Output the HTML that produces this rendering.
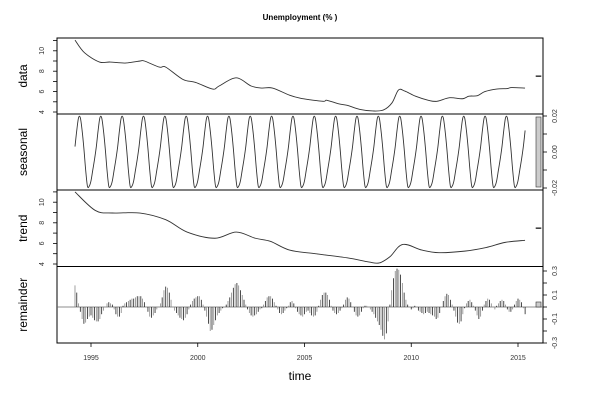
<!DOCTYPE html>
<html><head><meta charset="utf-8"><style>
html,body{margin:0;padding:0;background:#fff}
svg{display:block;font-family:"Liberation Sans",sans-serif}
</style></head><body>
<svg id="chart" width="600" height="400" viewBox="0 0 600 400"></svg>
<script>
// ---------- data ----------
const dataYears = [1994.25,1994.7,1995.4,1995.9,1996.6,1997.3,1997.5,1998.2,1998.5,1999.3,1999.9,2000.7,2001.0,2001.8,2002.5,2003.0,2003.5,2004.3,2004.8,2005.25,2005.9,2006.05,2006.6,2007.0,2007.6,2008.2,2008.7,2009.1,2009.4,2009.7,2010.2,2010.8,2011.2,2011.8,2012.4,2012.7,2013.1,2013.45,2014.0,2014.5,2014.7,2015.33];
const dataValues = [11.05,9.8,8.9,8.9,8.8,9.0,9.0,8.4,8.4,7.2,6.9,6.25,6.55,7.35,6.55,6.35,6.35,5.65,5.35,5.2,5.05,5.15,4.8,4.65,4.25,4.1,4.2,4.9,6.15,6.05,5.55,5.15,5.05,5.4,5.3,5.55,5.6,6.0,6.25,6.3,6.4,6.35];
const trendYears = [1994.25,1995.2,1996.0,1997.3,1998.5,1999.5,2000.8,2001.8,2002.7,2003.4,2004.3,2005.5,2007.0,2008.0,2008.5,2009.0,2009.6,2010.5,2011.3,2012.5,2013.5,2014.4,2015.33];
const trendValues = [11.0,9.2,8.95,8.95,8.3,7.1,6.5,7.1,6.5,6.2,5.35,5.0,4.6,4.2,4.1,4.7,5.9,5.35,5.1,5.25,5.6,6.1,6.3];
const seasonalByMonth = [-0.016,-0.010,-0.004,0.003,0.012,0.019,0.019,0.012,0.002,-0.010,-0.019,-0.019];
const remainderValues = [
18,12,3,-4,-10,-14,-13,-10,-8,
-7,-9,-11,-12,-12,-10,-6,-3,0,3,4,3,
2,-2,-6,-8,-8,-5,1,3,4,5,6,7,
7,8,9,9,9,7,4,0,-4,-8,-9,-7,
-5,-2,0,3,8,14,17,16,12,6,0,-3,
-5,-7,-9,-10,-11,-9,-6,-2,2,5,7,8,
9,9,6,2,-3,-8,-14,-20,-19,-15,-11,-7,
-5,-3,-1,0,2,5,8,12,16,19,20,18,
14,10,6,2,-2,-5,-7,-8,-7,-6,-4,-2,
-1,2,5,8,9,9,7,4,1,-2,-5,-6,
-5,-3,-1,1,4,5,3,-1,-4,-6,-7,-8,
-6,-4,-3,-5,-7,-8,-7,-4,1,6,10,12,
12,10,6,1,-3,-5,-6,-5,-3,-1,2,6,
8,7,4,0,-4,-7,-8,-7,-4,-1,1,1,
0,-2,-4,-6,-9,-12,-15,-19,-24,-27,-22,-12,
2,14,24,30,32,31,27,20,12,6,2,0,
-2,-1,1,0,-3,-4,-5,-6,-5,-4,-5,-6,
-7,-8,-10,-9,-5,0,5,9,11,10,6,2,
-3,-8,-13,-14,-12,-6,-1,3,5,6,4,1,
-3,-7,-10,-8,-3,2,5,7,6,3,0,-2,
1,3,5,6,5,2,-2,-4,-4,-2,2,5,
7,6,4,-1,-6];
const startYear = 1994, startMonth = 3;
const xTicks = [1995,2000,2005,2010,2015];
const dataTicks = [4,5,6,7,8,9,10,11], dataLabels = [4,6,8,10];
const seasTicks = [-0.02,-0.01,0,0.01,0.02], seasLabels = [-0.02,0,0.02];
const trendTicks = [4,5,6,7,8,9,10,11], trendLabels = [4,6,8,10];
const remTicks = [-0.3,-0.2,-0.1,0,0.1,0.2,0.3], remLabels = [-0.3,-0.1,0.1,0.3];

// ---------- scales ----------
const L=57, R=543;
const X = t => 91 + (t-1995)*21.35;
const Yd = v => 112 - (v-4)*10.2;
const Ys = v => 152 - v*1800;
const Yt = v => 264 - (v-4)*10.3;
const Yr = v => 307 - v*120;
const panels = [[38,114],[114,190],[190,266.5],[266.5,343]];

const svg = document.getElementById('chart');
const NS='http://www.w3.org/2000/svg';
function mk(tag, attrs, parent){const e=document.createElementNS(NS,tag);for(const k in attrs)e.setAttribute(k,attrs[k]);(parent||svg).appendChild(e);return e;}
function smooth(pts){let d='M'+pts[0][0].toFixed(2)+','+pts[0][1].toFixed(2);
 for(let i=0;i<pts.length-1;i++){const p0=pts[i-1]||pts[i],p1=pts[i],p2=pts[i+1],p3=pts[i+2]||p2;
 const c1=[p1[0]+(p2[0]-p0[0])/6,p1[1]+(p2[1]-p0[1])/6],c2=[p2[0]-(p3[0]-p1[0])/6,p2[1]-(p3[1]-p1[1])/6];
 d+=`C${c1[0].toFixed(2)},${c1[1].toFixed(2)} ${c2[0].toFixed(2)},${c2[1].toFixed(2)} ${p2[0].toFixed(2)},${p2[1].toFixed(2)}`;}return d;}
const fmt2 = v => v.toFixed(2);

// title
let t = mk('text',{x:300,y:20,'text-anchor':'middle','font-size':8,'font-weight':'bold',fill:'#000'});
t.textContent='Unemployment (% )';



// panel frames
const names=['data','seasonal','trend','remainder'];
panels.forEach((p,i)=>{
  const r=mk('rect',{x:L,y:p[0],width:R-L,height:p[1]-p[0],fill:'none',stroke:'#000','stroke-width':1});
  
  
  const tx=mk('text',{x:0,y:0,transform:`translate(27,${(p[0]+p[1])/2}) rotate(-90)`,'text-anchor':'middle','font-size':12,fill:'#000'});
  tx.textContent=names[i];
  
  
});

// axes
function yAxis(ticks,labels,Y,side,fmt,name){
  const g=mk('g',{});
  
  
  const x0 = side==='left'?L:R, dir = side==='left'?-1:1;
  ticks.forEach(v=>{mk('line',{x1:x0,x2:x0+dir*4,y1:Y(v),y2:Y(v),stroke:'#000','stroke-width':0.8},g);});
  labels.forEach(v=>{const lx=side==='left'?44:557;
    const e=mk('text',{x:0,y:0,transform:`translate(${lx},${Y(v)}) rotate(-90)`,'text-anchor':'middle','font-size':7,fill:'#333'},g);
    e.textContent=fmt(v);});
}
yAxis(dataTicks.filter(v=>Yd(v)>=38),dataLabels,Yd,'left',v=>String(v),'data-y-axis');
yAxis(seasTicks,seasLabels,Ys,'right',fmt2,'seasonal-y-axis');
yAxis(trendTicks.filter(v=>Yt(v)>=190),trendLabels,Yt,'left',v=>String(v),'trend-y-axis');
yAxis(remTicks,remLabels,Yr,'right',v=>v.toFixed(1),'remainder-y-axis');

const xg=mk('g',{});


xTicks.forEach(yr=>{mk('line',{x1:X(yr),x2:X(yr),y1:343,y2:347,stroke:'#000','stroke-width':0.8},xg);
  const e=mk('text',{x:X(yr),y:360,'text-anchor':'middle','font-size':7,fill:'#333'},xg);e.textContent=yr;});
const xt=mk('text',{x:300,y:380,'text-anchor':'middle','font-size':12,fill:'#000'});
xt.textContent='time';



// data series
const dl=mk('path',{d:smooth(dataYears.map((y,i)=>[X(y),Yd(dataValues[i])])),fill:'none',stroke:'#333','stroke-width':0.9});



// seasonal
const sp=[];
for(let i=0;i<remainderValues.length;i++){const m=(startMonth+i)%12;const yr=startYear+(startMonth+i)/12;sp.push([X(yr),Ys(seasonalByMonth[m])]);}
const sl=mk('path',{d:smooth(sp),fill:'none',stroke:'#333','stroke-width':0.9});



// trend
const tl=mk('path',{d:smooth(trendYears.map((y,i)=>[X(y),Yt(trendValues[i])])),fill:'none',stroke:'#333','stroke-width':0.9});



// remainder
const z=mk('line',{x1:L,x2:R,y1:Yr(0),y2:Yr(0),stroke:'#666','stroke-width':0.8});


const rg=mk('g',{});


remainderValues.forEach((v,i)=>{const yr=startYear+(startMonth+i)/12;const x=X(yr);
  const b=mk('line',{x1:x,x2:x,y1:Yr(0),y2:Yr(v/100),stroke:i%2?'#222':'#888','stroke-width':0.8},rg);
  
  
});

// range bars
function rangeBar(cy,h,name,fill){const r=mk('rect',{x:536,y:cy-h/2,width:5,height:Math.max(h,0.8),fill:fill,stroke:'#333','stroke-width':0.6});
  }
rangeBar(76,0.5,'data-range-bar','#000');
rangeBar(152,70,'seasonal-range-bar','#ccc');
rangeBar(228,0.5,'trend-range-bar','#000');
rangeBar(304.5,5,'remainder-range-bar','#ccc');
</script>
</body></html>
